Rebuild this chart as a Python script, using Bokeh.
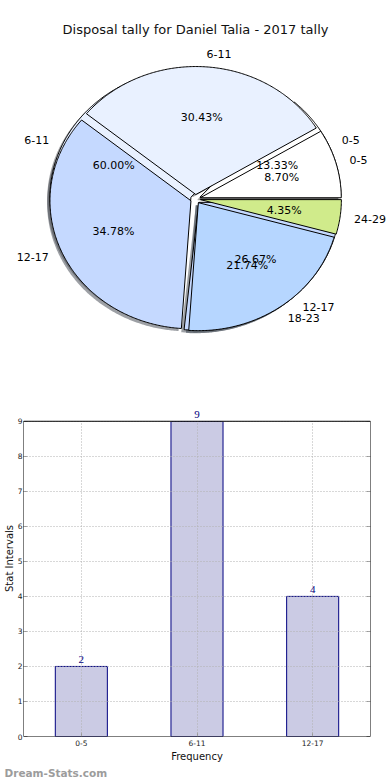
import numpy as np
from bokeh.plotting import figure
from bokeh.models import (ColumnDataSource, Range1d, FactorRange, LabelSet, Title,
                          FixedTicker, BoxAnnotation, LinearAxis)
from bokeh.embed import file_html
from bokeh.resources import INLINE

# ---------------- data ----------------
chart_title = "Disposal tally for Daniel Talia - 2017 tally"
pie_a_labels = ["0-5", "6-11", "12-17", "18-23", "24-29"]
pie_a_values = [2, 7, 8, 5, 1]
pie_b_labels = ["0-5", "6-11", "12-17"]
pie_b_values = [2, 9, 4]
bar_categories = ["0-5", "6-11", "12-17"]
bar_values = [2, 9, 4]
slice_colors = ["#ffffff", "#e9f1ff", "#c5d9ff", "#b6d6ff", "#d0eb8b"]

# ---------------- style / layout ----------------
FONT = "DejaVu Sans"
EXPLODE = 0.035
SHADOW_DX, SHADOW_DY = -0.02, -0.02
W = 390
H1 = 380
H2 = 398
TOP1 = 41
CX_PX, CY_PX = 195.0, 198.5     # pie centre (figure pixels)
RX_PX, RY_PX = 141.0, 128.0     # pixels per unit radius
BOT2 = 40                       # bottom border of the bar chart
LEFT2 = 19                      # left border of the bar chart
BAR_TOP_PX = 421                # page y of the top of the value axis


def pie_geometry(labels, values, colors):
    vals = np.asarray(values, dtype=float)
    frac = vals / vals.sum()
    ends = np.cumsum(frac) * 2 * np.pi
    starts = ends - frac * 2 * np.pi
    xs, ys, sxs, sys_, shade = [], [], [], [], []
    lx, ly, la, px, py, pt = [], [], [], [], [], []
    for i, (s, e) in enumerate(zip(starts, ends)):
        m = 0.5 * (s + e)
        cx, cy = EXPLODE * np.cos(m), EXPLODE * np.sin(m)
        n = max(int((e - s) / 0.01), 3)
        t = np.linspace(s, e, n)
        wx = np.concatenate([[cx], cx + np.cos(t)])
        wy = np.concatenate([[cy], cy + np.sin(t)])
        xs.append(wx.tolist())
        ys.append(wy.tolist())
        sxs.append((wx + SHADOW_DX).tolist())
        sys_.append((wy + SHADOW_DY).tolist())
        c = colors[i % len(colors)]
        r, g, b = int(c[1:3], 16), int(c[3:5], 16), int(c[5:7], 16)
        shade.append("#%02x%02x%02x" % (int(r * 0.3), int(g * 0.3), int(b * 0.3)))
        x_t = cx + 1.1 * np.cos(m)
        lx.append(x_t)
        ly.append(cy + 1.1 * np.sin(m))
        la.append("left" if x_t > 0 else "right")
        px.append(cx + 0.6 * np.cos(m))
        py.append(cy + 0.6 * np.sin(m))
        pt.append("%.2f%%" % (100 * frac[i]))
    wedges = ColumnDataSource(dict(xs=xs, ys=ys, color=[colors[i % len(colors)] for i in range(len(vals))]))
    shadows = ColumnDataSource(dict(xs=sxs, ys=sys_, color=shade))
    lab = ColumnDataSource(dict(x=lx, y=ly, text=list(labels), align=la))
    pct = ColumnDataSource(dict(x=px, y=py, text=pt))
    return wedges, shadows, lab, pct


# ---------------- pie figure ----------------
p1 = figure(
    width=W, height=H1, output_backend="svg", toolbar_location=None,
    x_axis_location=None, y_axis_location=None,
    x_range=Range1d(-CX_PX / RX_PX, (W - CX_PX) / RX_PX),
    y_range=Range1d((CY_PX - H1) / RY_PX, (CY_PX - TOP1) / RY_PX),
    min_border_left=0, min_border_right=0, min_border_bottom=0, min_border_top=TOP1,
    title=chart_title,
)
p1.title.align = "center"
p1.title.text_font = FONT
p1.title.text_font_size = "13px"
p1.title.text_font_style = "normal"
p1.title.text_color = "#111111"
p1.outline_line_color = None
p1.grid.visible = False

wa, sa, la_, pa = pie_geometry(pie_a_labels, pie_a_values, slice_colors)
wb, sb, lb_, pb = pie_geometry(pie_b_labels, pie_b_values, slice_colors)

for sh in (sb, sa):
    p1.patches("xs", "ys", source=sh, fill_color="color", fill_alpha=0.5, line_color=None)
for wd in (wb, wa):
    p1.patches("xs", "ys", source=wd, fill_color="color", line_color="black", line_width=1)
for lab in (la_, lb_):
    p1.text("x", "y", text="text", source=lab, text_align="align", text_baseline="middle",
            text_font={"value": FONT}, text_font_size="11px", text_color="black")
for pct in (pa, pb):
    p1.text("x", "y", text="text", source=pct, text_align="center", text_baseline="middle",
            text_font={"value": FONT}, text_font_size="11px", text_color="black")

# ---------------- bar figure ----------------
ymax = max(bar_values)
frame_bot_page = H1 + H2 - BOT2
y_end = ymax * (frame_bot_page - H1) / (frame_bot_page - BAR_TOP_PX)
y_ticks = list(range(0, ymax + 1))

bar_src = ColumnDataSource(dict(cat=bar_categories, val=bar_values, txt=[str(v) for v in bar_values]))
p2 = figure(
    width=W, height=H2, output_backend="svg", toolbar_location=None,
    x_range=FactorRange(*bar_categories), y_range=Range1d(0, y_end),
    min_border_top=0, min_border_left=LEFT2, min_border_right=20, min_border_bottom=BOT2,
)
p2.outline_line_color = None
p2.vbar(x="cat", top="val", width=0.45, source=bar_src, fill_color="#cbcbe4",
        line_color="#000080", line_width=1)
for g in (p2.xgrid, p2.ygrid):
    g.grid_line_color = "#b0b0b0"
    g.grid_line_dash = "1 2"
    g.grid_line_width = 1
    g.level = "guide"
p2.yaxis.ticker = FixedTicker(ticks=y_ticks)
p2.add_layout(LinearAxis(ticker=FixedTicker(ticks=y_ticks), axis_line_color=None,
                         major_tick_in=4, major_tick_out=0, major_tick_line_color="#999999",
                         minor_tick_line_color=None, major_label_text_alpha=0,
                         major_label_text_font_size="7px", major_label_standoff=0), "right")
# hide everything above the top of the value axis, then draw the axes box
p2.add_layout(BoxAnnotation(bottom=ymax, fill_color="white", fill_alpha=1.0, line_color=None))
p2.add_layout(BoxAnnotation(bottom=0, top=ymax, fill_color=None, fill_alpha=0,
                            line_color="black", line_width=1, line_alpha=1.0))
p2.add_layout(LabelSet(x="cat", y="val", text="txt", source=bar_src, y_offset=3,
                       text_align="center", text_baseline="bottom", text_font=FONT,
                       text_font_size="11px", text_color="#000080"))
for ax in (p2.xaxis, p2.yaxis[0]):
    ax.axis_line_color = None
    ax.major_tick_in = 4
    ax.major_tick_out = 0
    ax.major_tick_line_color = "#999999"
    ax.minor_tick_line_color = None
    ax.major_label_text_font = FONT
    ax.major_label_text_font_size = "7.5px"
    ax.major_label_text_color = "#222222"
    ax.major_label_standoff = 1
    ax.axis_label_text_font = FONT
    ax.axis_label_text_font_size = "10px"
    ax.axis_label_text_font_style = "normal"
    ax.axis_label_text_color = "#111111"
    ax.axis_label_standoff = 0
p2.xaxis.major_label_standoff = 3
p2.xaxis.axis_label_standoff = 2
p2.xaxis.axis_label = "Frequency"
p2.yaxis[0].axis_label = "Stat Intervals"
p2.add_layout(Title(text="Dream-Stats.com", align="left", text_font=FONT, text_font_size="10.5px",
                    text_font_style="bold", text_color="#9c9c9c", offset=-LEFT2, standoff=0), "below")

open("out.html", "w").write(file_html([p1, p2], INLINE))
